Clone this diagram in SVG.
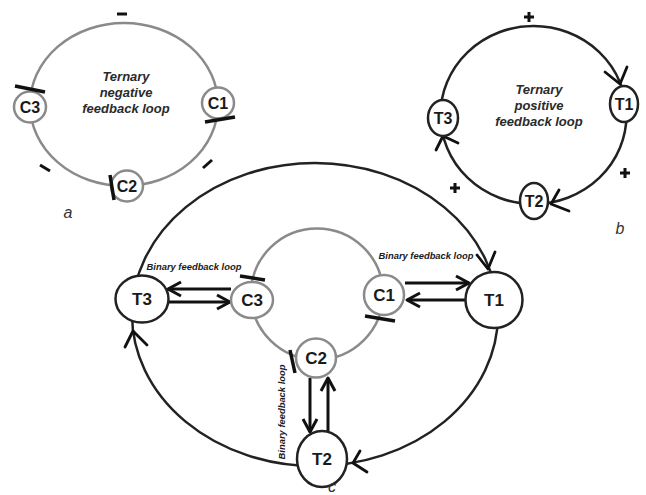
<svg xmlns="http://www.w3.org/2000/svg" width="646" height="495" viewBox="0 0 646 495">
<style>
.bg{fill:#fff}
.gl{fill:none;stroke:#8a8a8a;stroke-width:2.5}
.bl{fill:none;stroke:#222;stroke-width:2.5}
.gn{fill:#fff;stroke:#8a8a8a;stroke-width:2.5}
.bn{fill:#fff;stroke:#222;stroke-width:2.5}
.bar{stroke:#111;stroke-width:3.5;stroke-linecap:butt;fill:none}
.sign{stroke:#111;stroke-width:3;fill:none}
.head{fill:none;stroke:#111;stroke-width:2.8;stroke-linecap:round;stroke-linejoin:round}
.arr{fill:none;stroke:#111;stroke-width:3;stroke-linejoin:round}
.nl{font-family:"Liberation Sans",Arial,sans-serif;font-weight:bold;fill:#1a1a1a;text-anchor:middle}
.tx{font-family:"Liberation Sans",Arial,sans-serif;font-weight:bold;font-style:italic;fill:#2a2a2a;text-anchor:middle;font-size:13px}
.bx{font-family:"Liberation Sans",Arial,sans-serif;font-weight:bold;font-style:italic;fill:#1a1a1a;text-anchor:middle;font-size:9.4px}
.pl{font-family:"Liberation Sans",Arial,sans-serif;font-style:italic;fill:#333;text-anchor:middle;font-size:16px}
</style>
<rect class="bg" width="646" height="495"/>

<g id="connectors">
  <!-- panel a loop -->
  <ellipse class="gl" cx="124" cy="104.5" rx="94" ry="81.5"/>
  <!-- panel b loop -->
  <ellipse class="bl" cx="533.5" cy="115" rx="93" ry="89"/>
  <!-- panel c outer loop -->
  <ellipse class="bl" cx="315" cy="314.5" rx="183" ry="151.5"/>
  <!-- panel c inner loop -->
  <ellipse class="gl" cx="317" cy="294" rx="66" ry="65.5"/>

  <!-- panel b arrowheads -->
  <polyline class="head" points="605,72 620,84 627,67"/>
  <polyline class="head" points="559,190 551,204 569,211"/>
  <polyline class="head" points="436,150 443,136 458,143"/>

  <!-- panel c outer arrowheads -->
  <polyline class="head" points="477,255 488,269 495,252"/>
  <polyline class="head" points="360,451 353,463 367,472"/>
  <polyline class="head" points="125,347 133,331 147,345"/>

  <!-- binary arrows T3-C3 -->
  <line class="arr" x1="231" y1="289" x2="168" y2="289"/>
  <polyline class="arr" points="181,282 168,289 181,296"/>
  <line class="arr" x1="168" y1="302" x2="230" y2="302"/>
  <polyline class="arr" points="217,295 230,302 217,309"/>

  <!-- binary arrows C1-T1 -->
  <line class="arr" x1="405" y1="283" x2="469" y2="283"/>
  <polyline class="arr" points="456,276 469,283 456,290"/>
  <line class="arr" x1="466" y1="300" x2="407" y2="300"/>
  <polyline class="arr" points="420,293 407,300 420,307"/>

  <!-- binary arrows C2-T2 -->
  <line class="arr" x1="310" y1="378" x2="310" y2="432"/>
  <polyline class="arr" points="303,419 310,432 317,419"/>
  <line class="arr" x1="328" y1="431" x2="328" y2="378"/>
  <polyline class="arr" points="321,391 328,378 335,391"/>
</g>

<g id="nodeA_C3"><ellipse class="gn" cx="30" cy="107" rx="16" ry="15.5"/><text class="nl" x="30" y="113" font-size="16">C3</text></g>
<g id="nodeA_C1"><ellipse class="gn" cx="218" cy="103" rx="16" ry="15.5"/><text class="nl" x="218" y="109" font-size="16">C1</text></g>
<g id="nodeA_C2"><ellipse class="gn" cx="127" cy="186" rx="16" ry="15.5"/><text class="nl" x="127" y="192" font-size="16">C2</text></g>

<g id="nodeB_T3"><ellipse class="bn" cx="443" cy="118" rx="15" ry="18"/><text class="nl" x="443" y="124" font-size="16">T3</text></g>
<g id="nodeB_T1"><ellipse class="bn" cx="624" cy="104" rx="14" ry="18"/><text class="nl" x="624" y="110" font-size="16">T1</text></g>
<g id="nodeB_T2"><ellipse class="bn" cx="534" cy="201" rx="14" ry="18"/><text class="nl" x="534" y="207" font-size="16">T2</text></g>

<g id="nodeC_C3"><ellipse class="gn" cx="252" cy="300" rx="21" ry="18"/><text class="nl" x="252" y="306" font-size="17">C3</text></g>
<g id="nodeC_C1"><ellipse class="gn" cx="384" cy="295" rx="20" ry="20"/><text class="nl" x="384" y="301" font-size="17">C1</text></g>
<g id="nodeC_C2"><ellipse class="gn" cx="316" cy="358" rx="20" ry="19.5"/><text class="nl" x="316" y="364" font-size="17">C2</text></g>
<g id="nodeC_T3"><ellipse class="bn" cx="142" cy="299" rx="26.5" ry="23.5"/><text class="nl" x="142" y="305" font-size="17">T3</text></g>
<g id="nodeC_T1"><ellipse class="bn" cx="494" cy="300" rx="28.5" ry="28"/><text class="nl" x="494" y="306" font-size="17">T1</text></g>
<g id="nodeC_T2"><ellipse class="bn" cx="322" cy="459" rx="25" ry="28"/><text class="nl" x="322" y="465" font-size="17">T2</text></g>

<!-- inhibition bars -->
<g id="bars">
  <line class="bar" x1="15" y1="86" x2="45" y2="92"/>
  <line class="bar" x1="205" y1="122" x2="235" y2="117"/>
  <line class="bar" x1="110" y1="175" x2="114" y2="200"/>
  <line class="bar" x1="240" y1="276" x2="265" y2="280"/>
  <line class="bar" x1="365" y1="316" x2="395" y2="321"/>
  <line class="bar" x1="290" y1="350" x2="295" y2="373"/>
</g>

<!-- signs -->
<g id="signs">
  <line class="sign" x1="117" y1="14" x2="127" y2="14"/>
  <line class="sign" x1="40" y1="165" x2="50" y2="171"/>
  <line class="sign" x1="203" y1="168" x2="212" y2="160"/>
  <path class="sign" d="M524,17 h10 M529,12 v10"/>
  <path class="sign" d="M620,173 h10 M625,168 v10"/>
  <path class="sign" d="M450,188 h10 M455,183 v10"/>
</g>

<g id="labels">
  <text class="tx" x="126" y="81">Ternary</text>
  <text class="tx" x="126" y="97">negative</text>
  <text class="tx" x="126" y="113">feedback loop</text>
  <text class="tx" x="539" y="94">Ternary</text>
  <text class="tx" x="539" y="110">positive</text>
  <text class="tx" x="539" y="126">feedback loop</text>
  <text class="bx" x="194" y="270">Binary feedback loop</text>
  <text class="bx" x="426" y="259">Binary feedback loop</text>
  <text class="bx" transform="translate(285,412) rotate(-90)" x="0" y="0">Binary feedback loop</text>
  <text class="pl" x="68" y="218">a</text>
  <text class="pl" x="620" y="234">b</text>
  <text class="pl" x="332" y="492">c</text>
</g>
</svg>
